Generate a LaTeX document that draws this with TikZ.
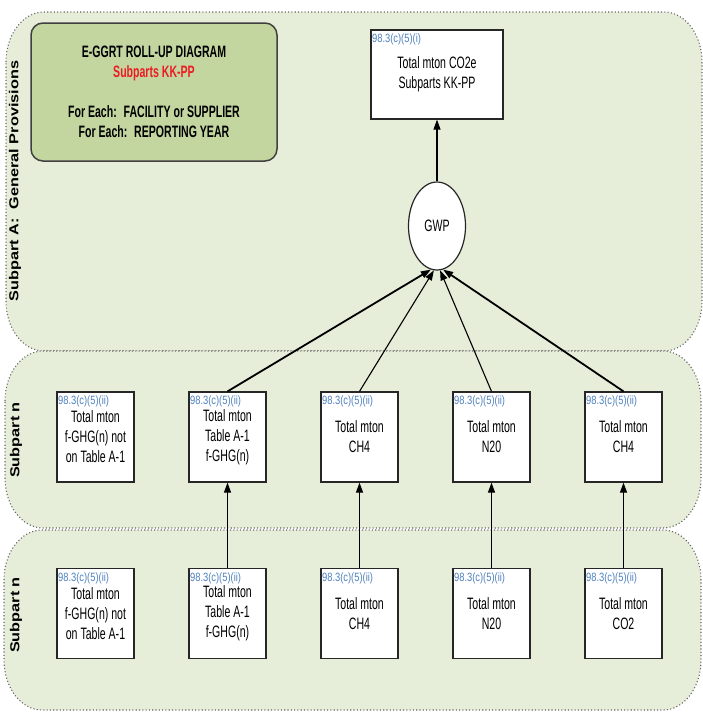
\documentclass[tikz,border=0pt]{standalone}
\usepackage{fontspec}
\usepackage{tikz}
\usetikzlibrary{shapes.geometric, arrows.meta, positioning}
\setmainfont{Liberation Sans}
\newfontfamily\boxfont[FakeStretch=0.64]{Liberation Sans}
\newfontfamily\tagfont[FakeStretch=0.78]{Liberation Sans}
\newfontfamily\lanefont[FakeStretch=1.25]{Liberation Sans}
\definecolor{lanegreen}{RGB}{230,237,216}
\definecolor{headgreen}{RGB}{196,214,160}
\definecolor{tagblue}{RGB}{79,129,189}
\definecolor{subred}{RGB}{235,28,36}
\tikzstyle{lane} = [draw=black!60, 
line width=1.1pt, 
dash pattern=on 1.1pt off 2.2pt, 
fill=lanegreen]
\tikzstyle{lanetitle} = [rotate=90, 
inner sep=0pt, 
font=\lanefont\bfseries\fontsize{13}{15}\selectfont]
\tikzstyle{headbox} = [rectangle, rounded corners=12pt, 
minimum width=246pt, 
minimum height=138pt, 
align=center, 
draw=black!75, line width=1.5pt, 
fill=headgreen, 
font=\boxfont\bfseries\fontsize{16.5}{20}\selectfont]
\tikzstyle{tag} = [anchor=north west, 
inner sep=1.5pt, yshift=-3pt, 
text=tagblue, 
font=\tagfont\fontsize{12}{14}\selectfont]
\tikzstyle{total} = [rectangle, 
minimum width=77pt, 
minimum height=90pt, 
inner sep=0pt, 
align=center, 
draw=black!85, line width=1.2pt, 
fill=white, 
font=\boxfont\fontsize{16.5}{20}\selectfont, 
label={[tag]north west:98.3(c)(5)(ii)}]
\tikzstyle{grand} = [rectangle, 
minimum width=132pt, 
minimum height=89pt, 
inner sep=0pt, 
align=center, 
draw=black!85, line width=1.2pt, 
fill=white, 
font=\boxfont\fontsize{16.5}{20}\selectfont, 
label={[tag]north west:98.3(c)(5)(i)}]
\tikzstyle{sum} = [ellipse, 
minimum width=57pt, 
minimum height=88pt, 
inner sep=0pt, 
draw=black!85, line width=1.2pt, 
fill=white, 
font=\boxfont\fontsize{16.5}{20}\selectfont]
\tikzstyle{arrow} = [line width=1.1pt,->,>={Triangle[length=10pt,width=7pt]}]
\tikzstyle{heavy} = [line width=1.8pt]
% one swim lane with oval corners
\newcommand{\lanepath}[4]{%
  \draw[lane] (#1,{#2+50}) arc[start angle=180,end angle=270,x radius=38,y radius=50]
    -- ({#3-38},#2) arc[start angle=270,end angle=360,x radius=38,y radius=50]
    -- (#3,{#4-50}) arc[start angle=0,end angle=90,x radius=38,y radius=50]
    -- ({#1+38},#4) arc[start angle=90,end angle=180,x radius=38,y radius=50] -- cycle;}

\begin{document}
\begin{tikzpicture}[x=1pt, y=-1pt, node distance=132pt]
	\useasboundingbox (0,0) rectangle (703,713);
	% lanes
	\lanepath{6}{12}{702}{351}
	\lanepath{5}{351}{701}{528}
	\lanepath{4}{530}{701}{710}
	\node (lanea) [lanetitle] at (15,181) {Subpart A:~ General Provisions};
	\node (laneb) [lanetitle] at (16,440) {Subpart n};
	\node (lanec) [lanetitle] at (16,615) {Subpart n};

	\node (head) [headbox] at (154,92) {E-GGRT ROLL-UP DIAGRAM\\\textcolor{subred}{Subparts KK-PP}\\[20pt]For Each:~ FACILITY or SUPPLIER\\For Each:~ REPORTING YEAR};
	\node (co2e) [grand] at (437,74.5) {Total mton CO2e\\Subparts KK-PP};
	\node (gwp) [sum] at (437,226) {GWP};

	\node (m1) [total] at (95.5,437) {Total mton\\f-GHG(n) not\\on Table A-1};
	\node (m2) [total, right of=m1] {Total mton\\Table A-1\\f-GHG(n)};
	\node (m3) [total, right of=m2] {Total mton\\CH4};
	\node (m4) [total, right of=m3] {Total mton\\N20};
	\node (m5) [total, right of=m4] {Total mton\\CH4};

	\node (b1) [total] at (95.5,613.5) {Total mton\\f-GHG(n) not\\on Table A-1};
	\node (b2) [total, right of=b1] {Total mton\\Table A-1\\f-GHG(n)};
	\node (b3) [total, right of=b2] {Total mton\\CH4};
	\node (b4) [total, right of=b3] {Total mton\\N20};
	\node (b5) [total, right of=b4] {Total mton\\CO2};

	\draw [arrow] (gwp) -- (co2e);
	\draw [arrow, heavy] (m2.north) -- (gwp.262);
	\draw [arrow] (m3.north) -- (gwp.266);
	\draw [arrow] (m4.north) -- (gwp.274);
	\draw [arrow, heavy] (m5.north) -- (gwp.278);
	\draw [arrow] (b2) -- (m2);
	\draw [arrow] (b3) -- (m3);
	\draw [arrow] (b4) -- (m4);
	\draw [arrow] (b5) -- (m5);
\end{tikzpicture}
\end{document}
